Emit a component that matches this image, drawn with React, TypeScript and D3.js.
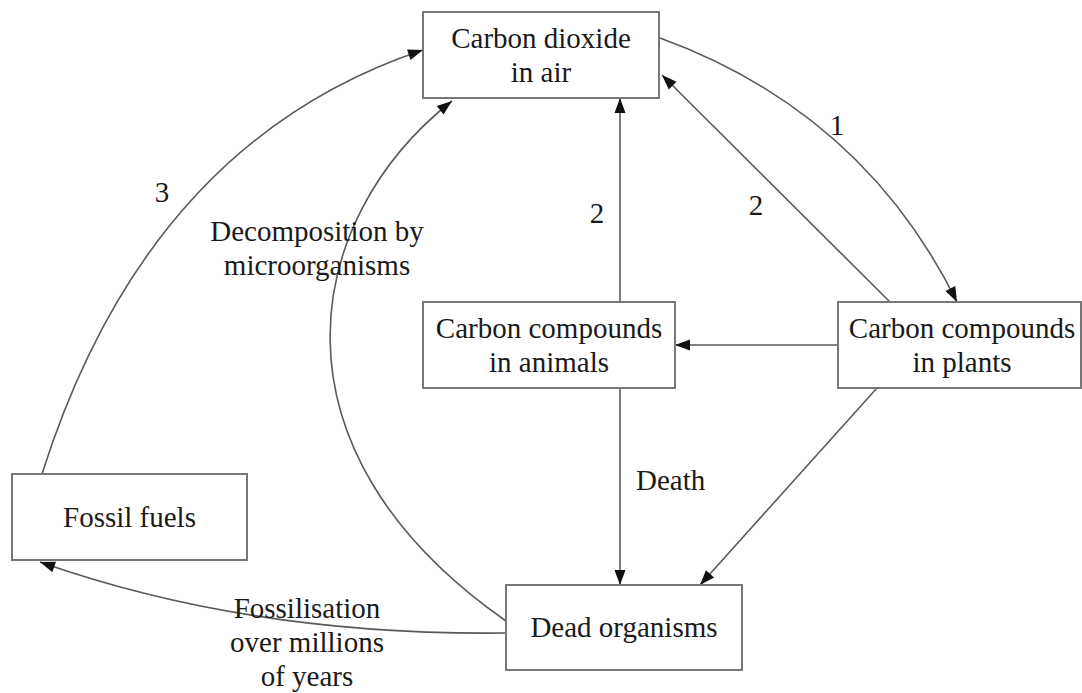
import { useEffect, useRef } from "react";
import * as d3 from "d3";

// Diagram content
const nodeIds = ["co2", "plants", "animals", "dead", "fossil"];
const nodeLabels = [
  ["Carbon dioxide", "in air"],
  ["Carbon compounds", "in plants"],
  ["Carbon compounds", "in animals"],
  ["Dead organisms"],
  ["Fossil fuels"],
];
const linkFrom = ["co2", "plants", "animals", "plants", "animals", "plants", "fossil", "dead", "dead"];
const linkTo = ["plants", "co2", "co2", "animals", "dead", "dead", "co2", "co2", "fossil"];
const linkLabels = [
  ["1"],
  ["2"],
  ["2"],
  [],
  ["Death"],
  [],
  ["3"],
  ["Decomposition by", "microorganisms"],
  ["Fossilisation", "over millions", "of years"],
];

// Layout (pixels)
const width = 1082;
const height = 693;
const nodeRects: Record<string, [number, number, number, number]> = {
  co2: [423, 12, 659, 98],
  plants: [838, 302, 1081, 388],
  animals: [423, 302, 675, 388],
  dead: [506, 585, 742, 670],
  fossil: [12, 474, 247, 560],
};
const nodeTextX: Record<string, number> = { plants: 962 };
// path points per link: 2 = line, 3 = quadratic, 4 = cubic
const linkPaths: [number, number][][] = [
  [[660, 38], [863, 112], [957, 302]],
  [[890, 302], [662, 75]],
  [[620, 302], [620, 98]],
  [[838, 345], [675, 345]],
  [[620, 388], [620, 585]],
  [[877, 388], [700, 585]],
  [[42, 474], [147, 142], [423, 50]],
  [[506, 621], [258, 448], [303, 218], [452, 101]],
  [[506, 633], [250, 636], [40, 562]],
];
const labelPos: { x: number; y: number; anchor: string }[] = [
  { x: 837, y: 125, anchor: "middle" },
  { x: 756, y: 205, anchor: "middle" },
  { x: 597, y: 213, anchor: "middle" },
  { x: 0, y: 0, anchor: "middle" },
  { x: 636, y: 480, anchor: "start" },
  { x: 0, y: 0, anchor: "middle" },
  { x: 162, y: 192, anchor: "middle" },
  { x: 317, y: 248, anchor: "middle" },
  { x: 307, y: 642, anchor: "middle" },
];

const fontSize = 29;
const lineH = 34;
const font = "'Liberation Serif', 'Times New Roman', serif";

const App = () => {
  const svgRef = useRef<SVGSVGElement | null>(null);

  useEffect(() => {
    if (!svgRef.current) return;
    const svg = d3.select(svgRef.current);
    svg.selectAll("*").remove();

    svg.append("rect").attr("width", width).attr("height", height).attr("fill", "#fff");

    // Links
    const linkG = svg.append("g");
    linkPaths.forEach((pts) => {
      const p = d3.path();
      p.moveTo(pts[0][0], pts[0][1]);
      if (pts.length === 2) p.lineTo(pts[1][0], pts[1][1]);
      else if (pts.length === 3) p.quadraticCurveTo(pts[1][0], pts[1][1], pts[2][0], pts[2][1]);
      else p.bezierCurveTo(pts[1][0], pts[1][1], pts[2][0], pts[2][1], pts[3][0], pts[3][1]);
      linkG.append("path")
        .attr("d", p.toString())
        .attr("fill", "none")
        .attr("stroke", "#5a5a5a")
        .attr("stroke-width", 1.6);

      // arrowhead along the end tangent
      const [ex, ey] = pts[pts.length - 1];
      const [px, py] = pts[pts.length - 2];
      const len = Math.hypot(ex - px, ey - py);
      const ux = (ex - px) / len;
      const uy = (ey - py) / len;
      const L = 15;
      const W = 5.5;
      const bx = ex - ux * L;
      const by = ey - uy * L;
      linkG.append("polygon")
        .attr("points", [
          [ex, ey],
          [bx - uy * W, by + ux * W],
          [bx + uy * W, by - ux * W],
        ].map((d) => d.join(",")).join(" "))
        .attr("fill", "#111");
    });

    // Link labels
    linkLabels.forEach((lines, i) => {
      if (!lines.length) return;
      const pos = labelPos[i];
      const t = svg.append("text")
        .attr("text-anchor", pos.anchor)
        .attr("font-family", font)
        .attr("font-size", fontSize)
        .attr("fill", "#1a1a1a");
      lines.forEach((ln, j) => {
        t.append("tspan")
          .attr("x", pos.x)
          .attr("y", pos.y + (j - (lines.length - 1) / 2) * lineH + fontSize * 0.34)
          .text(ln);
      });
    });

    // Nodes
    nodeIds.forEach((id, i) => {
      const [x0, y0, x1, y1] = nodeRects[id];
      svg.append("rect")
        .attr("x", x0)
        .attr("y", y0)
        .attr("width", x1 - x0)
        .attr("height", y1 - y0)
        .attr("fill", "#fff")
        .attr("stroke", "#777")
        .attr("stroke-width", 2);
      const lines = nodeLabels[i];
      const cx = nodeTextX[id] ?? (x0 + x1) / 2;
      const cy = (y0 + y1) / 2;
      const t = svg.append("text")
        .attr("text-anchor", "middle")
        .attr("font-family", font)
        .attr("font-size", fontSize)
        .attr("fill", "#1a1a1a");
      lines.forEach((ln, j) => {
        t.append("tspan")
          .attr("x", cx)
          .attr("y", cy + (j - (lines.length - 1) / 2) * lineH + fontSize * 0.34)
          .text(ln);
      });
    });
  }, []);

  return (
    <div style={{ position: "absolute", left: 0, top: 0, width, height, overflow: "hidden", background: "#fff" }}>
      <svg ref={svgRef} width={width} height={height} viewBox={`0 0 ${width} ${height}`} />
    </div>
  );
};

export default App;
